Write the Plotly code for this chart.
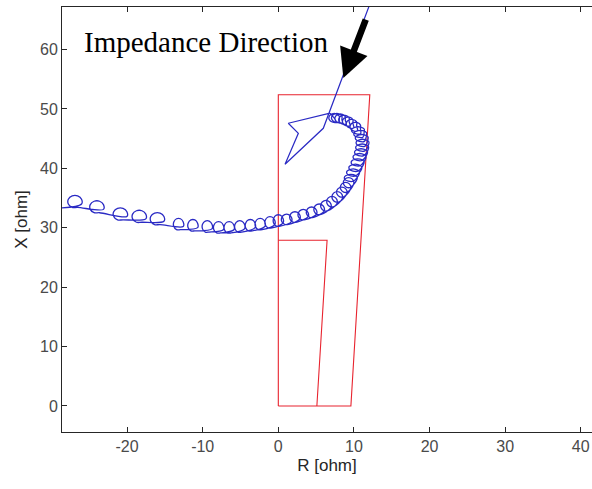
import plotly.graph_objects as go

# ---- data (ohm) ----
# impedance trajectory: entry point, loop centres / loop half-sizes, exit point
traj_start = (-29.0, 33.3)
loop_cx = [-26.9, -24.0, -20.9, -18.4, -16.0, -13.2, -11.3, -9.4, -7.9, -6.5,
           -5.1, -3.7, -2.4, -1.1, 0.0, 1.1, 2.2, 3.3, 4.4, 5.4,
           6.3, 7.1, 7.8, 8.4, 8.9, 9.3, 9.6, 9.9, 10.2, 10.5,
           10.75, 10.95, 11.1, 11.15, 11.05, 10.85, 10.55, 10.2, 9.7, 9.2,
           8.7, 8.2, 7.75, 7.4]
loop_cy = [34.4, 33.5, 32.3, 31.9, 31.5, 30.6, 30.4, 30.2, 30.05, 30.05,
           30.2, 30.4, 30.6, 30.9, 31.2, 31.4, 31.8, 32.2, 32.6, 33.1,
           33.7, 34.4, 35.2, 36.0, 36.8, 37.6, 38.4, 39.3, 40.1, 41.0,
           41.9, 42.7, 43.5, 44.3, 45.1, 45.8, 46.4, 47.0, 47.5, 47.9,
           48.2, 48.4, 48.5, 48.5]
loop_rx = [0.95, 0.95, 0.95, 0.95, 0.95, 0.68, 0.68, 0.68, 0.68, 0.68,
           0.68, 0.68, 0.68, 0.68, 0.68, 0.7, 0.7, 0.7, 0.7, 0.7,
           0.7, 0.7, 0.7, 0.7, 0.7, 0.7, 0.88, 0.88, 0.88, 0.88,
           0.88, 0.88, 0.88, 0.88, 0.88, 0.88, 0.88, 0.72, 0.72, 0.72,
           0.72, 0.72, 0.72, 0.72]
loop_ry = [1.05, 1.05, 1.05, 1.05, 1.05, 1.0, 1.0, 1.0, 1.0, 1.0,
           1.0, 1.0, 1.0, 1.0, 1.0, 0.9, 0.9, 0.9, 0.9, 0.9,
           0.9, 0.9, 0.9, 0.85, 0.85, 0.85, 0.6, 0.6, 0.6, 0.6,
           0.6, 0.6, 0.6, 0.6, 0.6, 0.6, 0.6, 0.75, 0.75, 0.75,
           0.75, 0.75, 0.75, 0.75]

# straight segments of the trajectory (jump and incoming line)
jump_x = [6.84, 1.32, 2.65, 0.89, 5.95, 12.5]
jump_y = [49.3, 47.6, 45.9, 40.7, 46.75, 69.0]

# distance relay zones
zone_outer_x = [0, 9.6, 12.1, 0, 0]
zone_outer_y = [0, 0, 52.4, 52.4, 0]
zone_inner_x = [5.1, 6.45, 0]
zone_inner_y = [0, 27.9, 27.9]

x_ticks = [-20, -10, 0, 10, 20, 30, 40]
x_tick_labels = ["-20", "-10", "0", "10", "20", "30", "40"]
y_ticks = [0, 10, 20, 30, 40, 50, 60]
y_tick_labels = ["0", "10", "20", "30", "40", "50", "60"]

arrow_tip = (8.6, 55.2)

# ---- ring glyph used to trace each loop (counter-clockwise, entering low on the right) ----
RING = [(0.92, -0.38), (0.92, 0.38), (0.38, 0.92), (-0.38, 0.92),
        (-0.92, 0.38), (-0.92, -0.38), (-0.38, -0.92), (0.38, -0.92)]

traj_x = [traj_start[0]]
traj_y = [traj_start[1]]
for cx, cy, rx, ry in zip(loop_cx, loop_cy, loop_rx, loop_ry):
    for ux, uy in RING:
        traj_x.append(cx + ux * rx)
        traj_y.append(cy + uy * ry)
traj_x.append(jump_x[0])
traj_y.append(jump_y[0])

BLUE = "#2a2ac4"
RED = "#e8232e"
AX = "#262626"

fig = go.Figure()
fig.add_trace(go.Scatter(x=zone_outer_x, y=zone_outer_y, mode="lines",
                         line=dict(color=RED, width=1.1), hoverinfo="skip"))
fig.add_trace(go.Scatter(x=zone_inner_x, y=zone_inner_y, mode="lines",
                         line=dict(color=RED, width=1.1), hoverinfo="skip"))
fig.add_trace(go.Scatter(x=traj_x, y=traj_y, mode="lines",
                         line=dict(color=BLUE, width=1.3, shape="spline", smoothing=1.0),
                         hoverinfo="skip"))
fig.add_trace(go.Scatter(x=jump_x, y=jump_y, mode="lines",
                         line=dict(color=BLUE, width=1.2), hoverinfo="skip"))

fig.add_annotation(x=arrow_tip[0], y=arrow_tip[1], ax=23, ay=-60, text="",
                   showarrow=True, arrowhead=2, arrowsize=0.9, arrowwidth=6.5,
                   arrowcolor="black", standoff=0)
fig.add_annotation(x=-9.5, y=61.3, text="Impedance Direction", showarrow=False,
                   font=dict(family="Liberation Serif, Times New Roman, serif",
                             size=29, color="black"),
                   xanchor="center", yanchor="middle")

axis_font = dict(family="Liberation Sans, Arial, sans-serif", size=16, color="#4a4a4a")
title_font = dict(family="Liberation Sans, Arial, sans-serif", size=17, color="#262626")
fig.update_xaxes(range=[-28.61, 41.49], tickvals=x_ticks, ticktext=x_tick_labels,
                 ticks="inside", ticklen=5,
                 tickcolor=AX, showline=True, linecolor=AX, linewidth=1, mirror="ticks",
                 showgrid=False, zeroline=False, tickfont=axis_font,
                 title=dict(text="R [ohm]", font=title_font, standoff=4))
fig.update_yaxes(range=[-4.38, 67.17], tickvals=y_ticks, ticktext=y_tick_labels,
                 ticks="inside", ticklen=5,
                 tickcolor=AX, showline=True, linecolor=AX, linewidth=1, mirror=False,
                 showgrid=False, zeroline=False, tickfont=axis_font,
                 title=dict(text="X [ohm]", font=title_font, standoff=8))
fig.update_layout(width=592, height=489, margin=dict(l=62, r=0, t=7, b=57),
                  plot_bgcolor="white", paper_bgcolor="white", showlegend=False)

fig.write_html("out.html")
